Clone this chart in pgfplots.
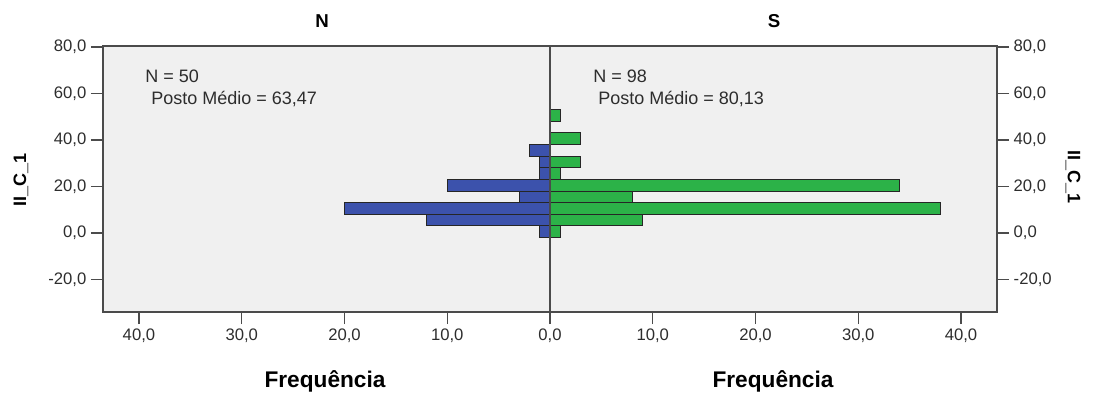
\documentclass[border=0pt]{standalone}
\usepackage{fontspec}
\setmainfont{Liberation Sans}
\usepackage{pgfplots}
\pgfplotsset{compat=1.18}
\definecolor{bgc}{RGB}{240,240,240}
\definecolor{nblue}{RGB}{60,82,172}
\definecolor{sgreen}{RGB}{44,178,72}
\definecolor{axc}{RGB}{75,75,75}
\definecolor{txc}{RGB}{45,45,45}
\begin{document}
\begin{tikzpicture}[x=0.75pt,y=0.75pt]
\pgfplotsset{
  common/.style={
    at={(77.25pt,66pt)}, anchor=south west, scale only axis,
    width=670.5pt, height=199.5pt,
    xmin=-43.5, xmax=43.5, ymin=-34, ymax=80.4,
    axis line style={axc, line width=1.1pt},
    tick style={axc, line width=1pt},
    tick align=outside, major tick length=9pt,
    ytick={-20,0,20,40,60,80},
    yticklabels={{-20,0},{0,0},{20,0},{40,0},{60,0},{80,0}},
    tick label style={font=\fontsize{12.5}{15}\selectfont, text=txc},
  }
}
\begin{axis}[common,
  axis background/.style={fill=bgc},
  xtick={-40,-30,-20,-10,0,10,20,30,40},
  xticklabels={{40,0},{30,0},{20,0},{10,0},{0,0},{10,0},{20,0},{30,0},{40,0}},
  xtick pos=bottom, ytick pos=left,
]
\addplot[xbar, bar shift=0pt, bar width=5, fill=nblue, draw=black!85, line width=0.8pt]
  coordinates {(-1,0.5) (-12,5.5) (-20,10.5) (-3,15.5) (-10,20.5) (-1,25.5) (-1,30.5) (-2,35.5)};
\addplot[xbar, bar shift=0pt, bar width=5, fill=sgreen, draw=black!85, line width=0.8pt]
  coordinates {(1,0.5) (9,5.5) (38,10.5) (8,15.5) (34,20.5) (1,25.5) (3,30.5) (3,40.5) (1,50.5)};
\draw[axc, line width=1.2pt] (axis cs:0,-34) -- (axis cs:0,80.4);
\end{axis}
\begin{axis}[common,
  hide x axis, axis y line*=right, ytick pos=right,
]
\addplot[draw=none] coordinates {(0,0)};
\end{axis}
\node[font=\bfseries\fontsize{14}{16}\selectfont] at (322,379) {N};
\node[font=\bfseries\fontsize{14}{16}\selectfont] at (774,379) {S};
\node[font=\bfseries\fontsize{17}{20}\selectfont] at (325,19) {Frequência};
\node[font=\bfseries\fontsize{17}{20}\selectfont] at (773,19) {Frequência};
\node[rotate=90, font=\bfseries\fontsize{13.5}{16}\selectfont] at (21,220) {II\_C\_1};
\node[rotate=-90, font=\bfseries\fontsize{13.5}{16}\selectfont] at (1073,223) {II\_C\_1};
\node[anchor=west, inner sep=0pt, font=\fontsize{13.5}{16}\selectfont, text=txc] at (145,324) {N = 50};
\node[anchor=west, inner sep=0pt, font=\fontsize{13.5}{16}\selectfont, text=txc] at (151,301) {Posto Médio = 63,47};
\node[anchor=west, inner sep=0pt, font=\fontsize{13.5}{16}\selectfont, text=txc] at (593,324) {N = 98};
\node[anchor=west, inner sep=0pt, font=\fontsize{13.5}{16}\selectfont, text=txc] at (598,301) {Posto Médio = 80,13};
\pgfresetboundingbox
\path (0,0) rectangle (1099,400);
\end{tikzpicture}
\end{document}
